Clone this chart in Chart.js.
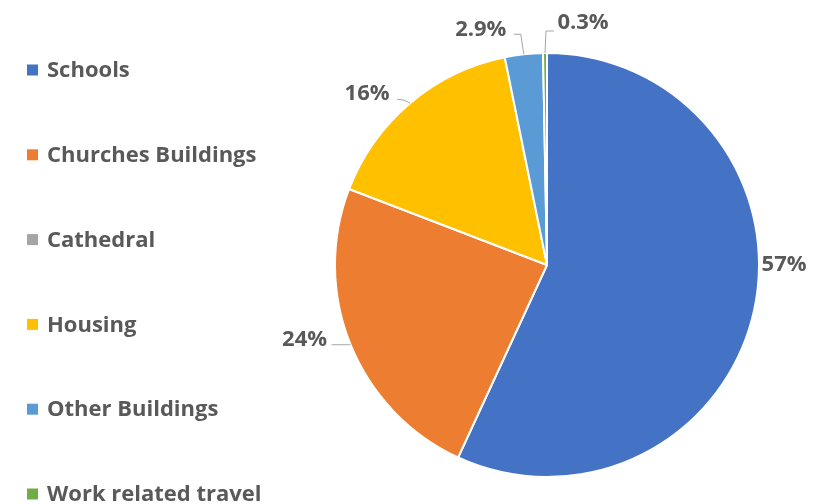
<!DOCTYPE html>
<html>
<head>
<meta charset="utf-8">
<script src="https://cdn.jsdelivr.net/npm/chart.js@4/dist/chart.umd.min.js"></script>
<style>
  html, body { margin: 0; padding: 0; background: #fff; }
  #wrap { width: 828px; height: 504px; position: relative; }
</style>
</head>
<body>
<div id="wrap"><canvas id="pieChart"></canvas></div>
<script>
const categories = ["Schools", "Churches Buildings", "Cathedral", "Housing", "Other Buildings", "Work related travel"];
const shares = [57, 24, 0, 16, 2.9, 0.3];
const percentLabels = ["57%", "24%", "", "16%", "2.9%", "0.3%"];
const colors = ["#4472c4", "#ed7d31", "#a5a5a5", "#ffc000", "#5b9bd5", "#70ad47"];

const textColor = "#595959";
const fontFamily = "'Open Sans', Lato, sans-serif";

// label placement relative to the slice's mid-edge point: [dx, dy, leader path]
const labelPlacement = {
  0: { dx: 30, dy: -46, line: null },
  1: { dx: -46, dy: -5, line: [[-19, 0]] },
  3: { dx: -43, dy: -9, line: [[-6, -3], [-13, -4]] },
  4: { dx: -43, dy: -25, line: [[-3, -20], [-10, -20]] },
  5: { dx: 38, dy: -30, line: [[1, -22], [9, -22]] }
};

const pieLabels = {
  id: "pieLabels",
  afterDraw(chart) {
    const ctx = chart.ctx;
    const meta = chart.getDatasetMeta(0);
    ctx.save();
    meta.data.forEach((arc, i) => {
      const p = labelPlacement[i];
      if (!p || !shares[i]) return;
      const mid = (arc.startAngle + arc.endAngle) / 2;
      const ex = arc.x + Math.cos(mid) * arc.outerRadius;
      const ey = arc.y + Math.sin(mid) * arc.outerRadius;
      if (p.line) {
        ctx.strokeStyle = "#a6a6a6";
        ctx.lineWidth = 1;
        ctx.beginPath();
        ctx.moveTo(ex, ey);
        p.line.forEach(pt => ctx.lineTo(ex + pt[0], ey + pt[1]));
        ctx.stroke();
      }
      ctx.fillStyle = textColor;
      ctx.font = "bold 22px " + fontFamily;
      ctx.textAlign = "center";
      ctx.textBaseline = "middle";
      ctx.fillText(percentLabels[i], ex + p.dx, ey + p.dy);
    });
    ctx.restore();
  }
};

const sideLegend = {
  id: "sideLegend",
  afterDraw(chart) {
    const ctx = chart.ctx;
    ctx.save();
    ctx.font = "bold 22px " + fontFamily;
    ctx.textAlign = "left";
    ctx.textBaseline = "middle";
    categories.forEach((name, i) => {
      const y = 70 + i * 84.8;
      ctx.fillStyle = colors[i];
      ctx.fillRect(27, y - 5.5, 11, 11);
      ctx.fillStyle = textColor;
      ctx.fillText(name, 47, y + 1);
    });
    ctx.restore();
  }
};

new Chart(document.getElementById("pieChart"), {
  type: "pie",
  data: {
    labels: categories,
    datasets: [{
      data: shares,
      backgroundColor: colors,
      borderColor: "#ffffff",
      borderWidth: 2
    }]
  },
  options: {
    responsive: true,
    maintainAspectRatio: false,
    animation: false,
    layout: { padding: { left: 334, right: 68, top: 52, bottom: 26 } },
    plugins: {
      legend: { display: false },
      tooltip: { enabled: false }
    }
  },
  plugins: [pieLabels, sideLegend]
});
</script>
</body>
</html>
